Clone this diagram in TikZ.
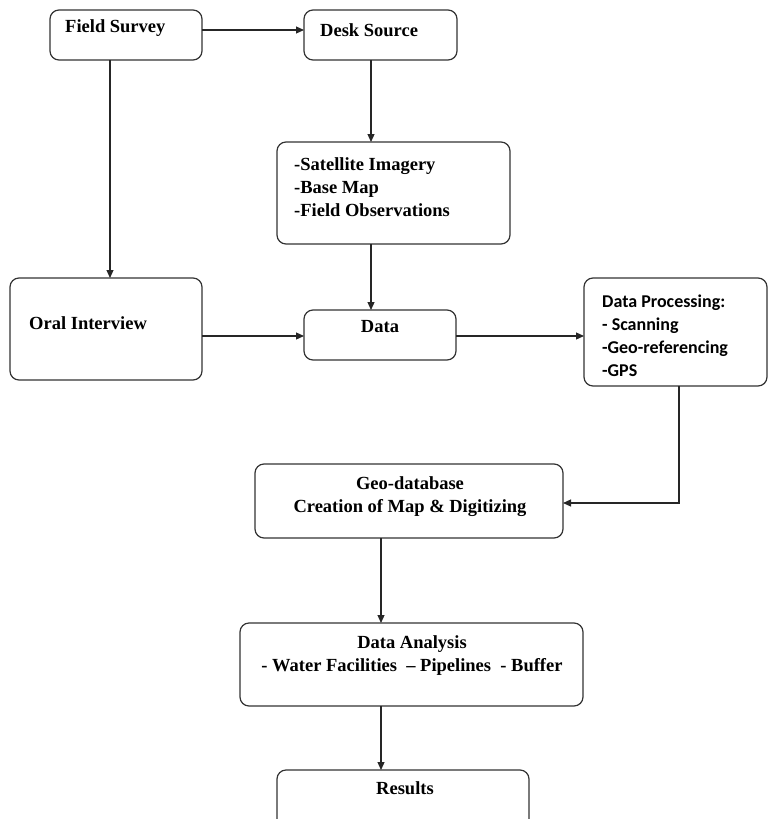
\documentclass[tikz,border=0pt]{standalone}
\usepackage{fontspec}
\setmainfont{Liberation Serif}
\newfontfamily\calib{Carlito}
\usetikzlibrary{arrows.meta}
\begin{document}
\begin{tikzpicture}[x=1pt,y=-1pt,
  box/.style={draw=black!80, line width=1.2pt, rounded corners=9pt, inner sep=0pt, outer sep=0pt},
  txt/.style={font=\fontsize{18.5}{23}\selectfont\bfseries, inner sep=0pt, align=#1},
  txt/.default=left,
  dptxt/.style={font=\fontsize{18}{23}\selectfont\calib\bfseries, inner sep=0pt, align=left},
  arr/.style={draw=black!85, line width=1.2pt, -{Triangle[length=8pt,width=7pt]}}]
\useasboundingbox (0,0) rectangle (769,819);
% boxes
\node[box, minimum width=152pt, minimum height=50pt] (fs) at (126,35) {};
\node[box, minimum width=153pt, minimum height=50pt] (ds) at (380.5,35) {};
\node[box, minimum width=233pt, minimum height=102pt] (sat) at (393.5,193) {};
\node[box, minimum width=192pt, minimum height=102pt] (oi) at (106,329) {};
\node[box, minimum width=152pt, minimum height=50pt] (data) at (380,335) {};
\node[box, minimum width=183pt, minimum height=108pt] (dp) at (675.5,332) {};
\node[box, minimum width=308pt, minimum height=74pt] (geo) at (409,501) {};
\node[box, minimum width=343pt, minimum height=83pt] (da) at (411.5,664.5) {};
\node[box, minimum width=252pt, minimum height=62pt] (res) at (403,801) {};
% texts
\node[txt, anchor=west] (tfs) at (65,28) {Field Survey};
\node[txt, anchor=west] (tds) at (320,30) {Desk Source};
\node[txt, anchor=west] (tsat) at (294,187) {-Satellite Imagery\\-Base Map\\-Field Observations};
\node[txt, anchor=west] (toi) at (29,323) {Oral Interview};
\node[txt=center] (tdata) at (380,327) {Data};
\node[dptxt, anchor=west] (tdp) at (602,335.5) {Data Processing:\\- Scanning\\-Geo-referencing\\-GPS};
\node[txt=center] (tgeo) at (410,497) {Geo-database\\Creation of Map \& Digitizing};
\node[txt=center] (tda) at (412,656) {Data Analysis\\- Water Facilities\ \ -- Pipelines\ \ - Buffer};
\node[txt=center] (tres) at (405,788) {Results};
% connectors
\draw[arr] ([yshift=5pt]fs.east) -- ([yshift=5pt]fs.east -| ds.west);
\draw[arr] ([xshift=-16pt]fs.south) -- ([xshift=-16pt]fs.south |- oi.north);
\draw[arr] ([xshift=-9.5pt]ds.south) -- ([xshift=-9.5pt]ds.south |- sat.north);
\draw[arr] ([xshift=-22.5pt]sat.south) -- ([xshift=-22.5pt]sat.south |- data.north);
\draw[arr] ([yshift=-7pt]oi.east) -- ([yshift=-7pt]oi.east -| data.west);
\draw[arr] ([yshift=-1pt]data.east) -- ([yshift=-1pt]data.east -| dp.west);
\draw[arr] ([xshift=3.5pt]dp.south) |- ([yshift=-2pt]geo.east);
\draw[arr] ([xshift=-28pt]geo.south) -- ([xshift=-28pt]geo.south |- da.north);
\draw[arr] ([xshift=-30.5pt]da.south) -- ([xshift=-30.5pt]da.south |- res.north);
\end{tikzpicture}
\end{document}
